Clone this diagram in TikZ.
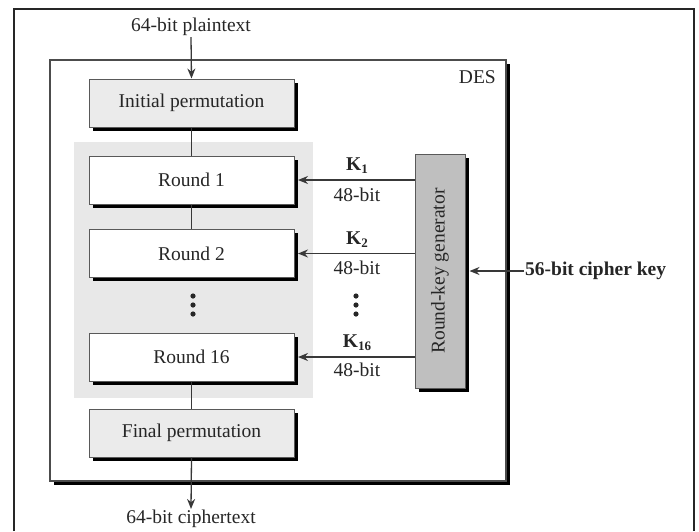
\documentclass[tikz,border=0pt]{standalone}
\usepackage{fontspec}
\setmainfont{Liberation Serif}
\usetikzlibrary{arrows.meta,shadows}
\newcommand{\ksub}[1]{\textbf{K}\kern0.3pt\raisebox{-0.35ex}{\fontsize{13}{13}\selectfont\bfseries #1}}
\tikzset{
  txt/.style={text=black!85, inner sep=1pt},
  boxbase/.style={draw=black!65, line width=1pt, inner sep=0pt,
    drop shadow={shadow xshift=3.5pt, shadow yshift=-3.5pt, fill=black, opacity=1}},
  stagebox/.style={boxbase, minimum width=205pt, minimum height=48pt, text=black!85},
  permbox/.style={stagebox, fill=black!8},
  roundbox/.style={stagebox, fill=white},
  genbox/.style={boxbase, fill=black!25, minimum width=50pt, minimum height=234pt},
  arr/.style={draw=black!78, line width=1.3pt, -{Stealth[length=10pt,width=8pt]}},
  conn/.style={draw=black!78, line width=1.3pt},
  dotc/.style={fill=black!85}
}
\begin{document}
\begin{tikzpicture}[x=1pt,y=-1pt,font=\fontsize{19.5}{22}\selectfont]
\useasboundingbox (0,0) rectangle (699,531);
% outer frame
\draw[line width=2.5pt, black!85] (14,531) -- (14,9) -- (694,9) -- (694,531);
% DES box
\node[draw=black!70, line width=1.1pt, fill=white, minimum width=456pt, minimum height=421pt,
  drop shadow={shadow xshift=4pt, shadow yshift=-3.5pt, fill=black, opacity=1}] (des) at (278,270.5) {};
\node[txt, anchor=east] (deslbl) at (497,77) {DES};
% gray region of rounds
\node[fill=black!9, minimum width=239pt, minimum height=256pt, inner sep=0pt] (rounds) at (193.5,270) {};
% stages
\node[permbox] (ip) at (191.5,103) {Initial permutation};
\node[roundbox] (r1) at (191.5,180) {Round 1};
\node[roundbox] (r2) at (191.5,253.5) {Round 2};
\node[roundbox] (r16) at (191.5,357) {Round 16};
\node[permbox] (fp) at (191.5,433) {Final permutation};
% dots
\foreach \yy in {296,305,314} {
  \fill[dotc] (193,\yy) circle (2.6pt);
  \fill[dotc] (356,\yy) circle (2.6pt);
}
% input / output
\node[txt] (pt) at (191,27) {64-bit plaintext};
\node[txt] (ct) at (191,519) {64-bit ciphertext};
\draw[arr] (pt.south) -- (ip.north);
\draw[conn] (ip.south) -- (r1.north);
\draw[conn] (r1.south) -- (r2.north);
\draw[conn] (r16.south) -- (fp.north);
\draw[arr] (fp.south) -- (ct.north);
% round-key generator
\node[genbox] (kg) at (440,271) {};
\node[txt, rotate=90] (kglbl) at (kg.center) {Round-key generator};
\node[txt, anchor=west, font=\fontsize{19.5}{22}\selectfont\bfseries] (ck) at (524,271) {56-bit cipher key};
\draw[arr] (ck.west) -- ([xshift=4pt]kg.east);
% round keys
\draw[arr] (kg.west |- r1.east) -- ([xshift=3.5pt]r1.east);
\draw[arr] (kg.west |- r2.east) -- ([xshift=3.5pt]r2.east);
\draw[arr] (kg.west |- r16.east) -- ([xshift=3.5pt]r16.east);
\node[txt] (k1) at (357,166) {\ksub{1}};
\node[txt] (b1) at (357,195) {48-bit};
\node[txt] (k2) at (357,240) {\ksub{2}};
\node[txt] (b2) at (357,268) {48-bit};
\node[txt] (k16) at (357,343) {\ksub{16}};
\node[txt] (b16) at (357,370) {48-bit};
\end{tikzpicture}
\end{document}
